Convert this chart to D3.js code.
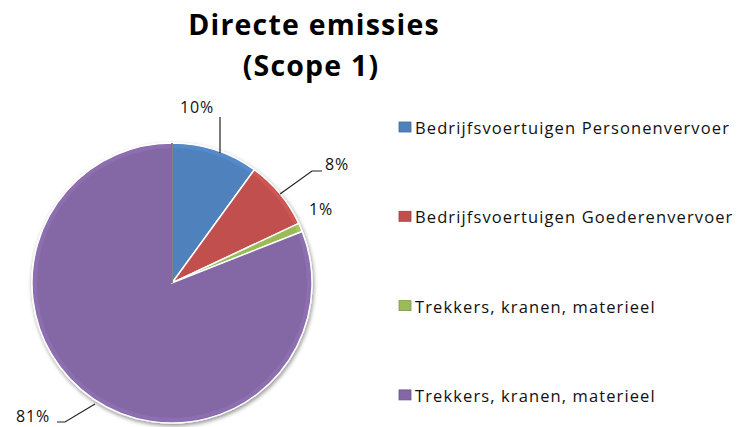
<!DOCTYPE html>
<html>
<head>
<meta charset="utf-8">
<script src="https://cdn.jsdelivr.net/npm/d3@7"></script>
<style>
  body { margin: 0; background: #fff; }
  text { font-family: "Open Sans", Lato, sans-serif; }
</style>
</head>
<body>
<div id="chart"></div>
<script>
// chart data
let categories = ["Bedrijfsvoertuigen Personenvervoer", "Bedrijfsvoertuigen Goederenvervoer",
                  "Trekkers, kranen, materieel", "Trekkers, kranen, materieel"];
let values = [10, 8, 1, 81];
let labels = ["10%", "8%", "1%", "81%"];
let colors = ["#4f81bd", "#c0504d", "#9bbb59", "#8467a6"];
let titleLines = ["Directe emissies", "(Scope 1)"];

let width = 737, height = 427;
let cx = 172, cy = 283, radius = 140;

let svg = d3.select('#chart')
  .append('svg')
  .attr('width', width)
  .attr('height', height)

let defs = svg.append('defs')
let shadow = defs.append('filter').attr('id', 'shadow').attr('x', '-20%').attr('y', '-20%').attr('width', '140%').attr('height', '140%')
shadow.append('feGaussianBlur').attr('in', 'SourceAlpha').attr('stdDeviation', 2)
shadow.append('feOffset').attr('dx', 1).attr('dy', 2).attr('result', 'blur')
shadow.append('feComponentTransfer').append('feFuncA').attr('type', 'linear').attr('slope', 0.45)
let merge = shadow.append('feMerge')
merge.append('feMergeNode')
merge.append('feMergeNode').attr('in', 'SourceGraphic')

// title
svg.selectAll('.title')
  .data(titleLines)
  .enter().append('text')
  .attr('class', 'title')
  .attr('x', (d, i) => i == 0 ? 314 : 311)
  .attr('y', (d, i) => 35 + i * 41)
  .attr('text-anchor', 'middle')
  .style('font-size', '28.5px')
  .style('font-weight', 'bold')
  .style('letter-spacing', '1.2px')
  .style('fill', '#000')
  .text(d => d)

// pie
let pie = d3.pie().sort(null).value(d => d)
let arcs = pie(values)
let arc = d3.arc().innerRadius(0).outerRadius(radius)
let rimArc = d3.arc().innerRadius(radius - 5).outerRadius(radius - 1)

let g = svg.append('g')
  .attr('transform', `translate(${cx},${cy})`)

g.append('g').attr('filter', 'url(#shadow)')
  .selectAll('path')
  .data(arcs)
  .enter().append('path')
  .attr('d', arc)
  .style('fill', (d, i) => colors[i])
  .style('stroke', '#fff')
  .style('stroke-width', 1.5)

// light rim on the outer edge, for the bevel look
g.selectAll('.rim')
  .data(arcs)
  .enter().append('path')
  .attr('class', 'rim')
  .attr('d', d => rimArc({startAngle: d.startAngle + 0.01, endAngle: d.endAngle - 0.01}))
  .style('fill', (d, i) => d3.color(colors[i]).brighter(0.5))
  .style('opacity', 0.35)

// dark edge along the first slice's vertical side
g.append('line')
  .attr('x1', 0).attr('y1', 0)
  .attr('x2', 0).attr('y2', -radius)
  .style('stroke', '#333')
  .style('stroke-width', 1.2)

// data labels and leader lines
let labelPos = [[197, 113], [337, 170], [321, 215], [33, 422]]
let leaders = [
  [[220, 117], [220, 153]],
  [[322, 171], [312, 171], [280, 194]],
  null,
  [[57, 422], [65, 422], [95, 404]]
]
let line = d3.line()
svg.selectAll('.leader')
  .data(leaders.filter(d => d))
  .enter().append('path')
  .attr('class', 'leader')
  .attr('d', line)
  .style('fill', 'none')
  .style('stroke', '#222')
  .style('stroke-width', 1.2)

svg.selectAll('.pct')
  .data(labels)
  .enter().append('text')
  .attr('class', 'pct')
  .attr('x', (d, i) => labelPos[i][0])
  .attr('y', (d, i) => labelPos[i][1])
  .attr('text-anchor', 'middle')
  .style('font-size', '16px')
  .style('letter-spacing', '0.8px')
  .style('fill', '#111')
  .text(d => d)

// legend
let legend = svg.selectAll('.legend')
  .data(categories)
  .enter().append('g')
  .attr('class', 'legend')
  .attr('transform', (d, i) => `translate(399,${128 + i * 89.3})`)

legend.append('rect')
  .attr('x', 0).attr('y', -6)
  .attr('width', 12).attr('height', 10)
  .style('fill', (d, i) => colors[i])
  .style('stroke', (d, i) => d3.color(colors[i]).darker(0.6))
  .style('stroke-width', 0.8)

let legendText = legend.append('text')
  .attr('x', 16)
  .attr('y', 0)
  .attr('dy', '0.36em')
  .style('font-size', '16.5px')
  .style('fill', '#111')
  .text(d => d)

// spread letters so the first entry reaches the width seen in the picture
let first = legendText.node()
let n = categories[0].length
let spacing = Math.max(0, (315 - first.getComputedTextLength()) / n)
legendText.style('letter-spacing', spacing + 'px')
</script>
</body>
</html>
